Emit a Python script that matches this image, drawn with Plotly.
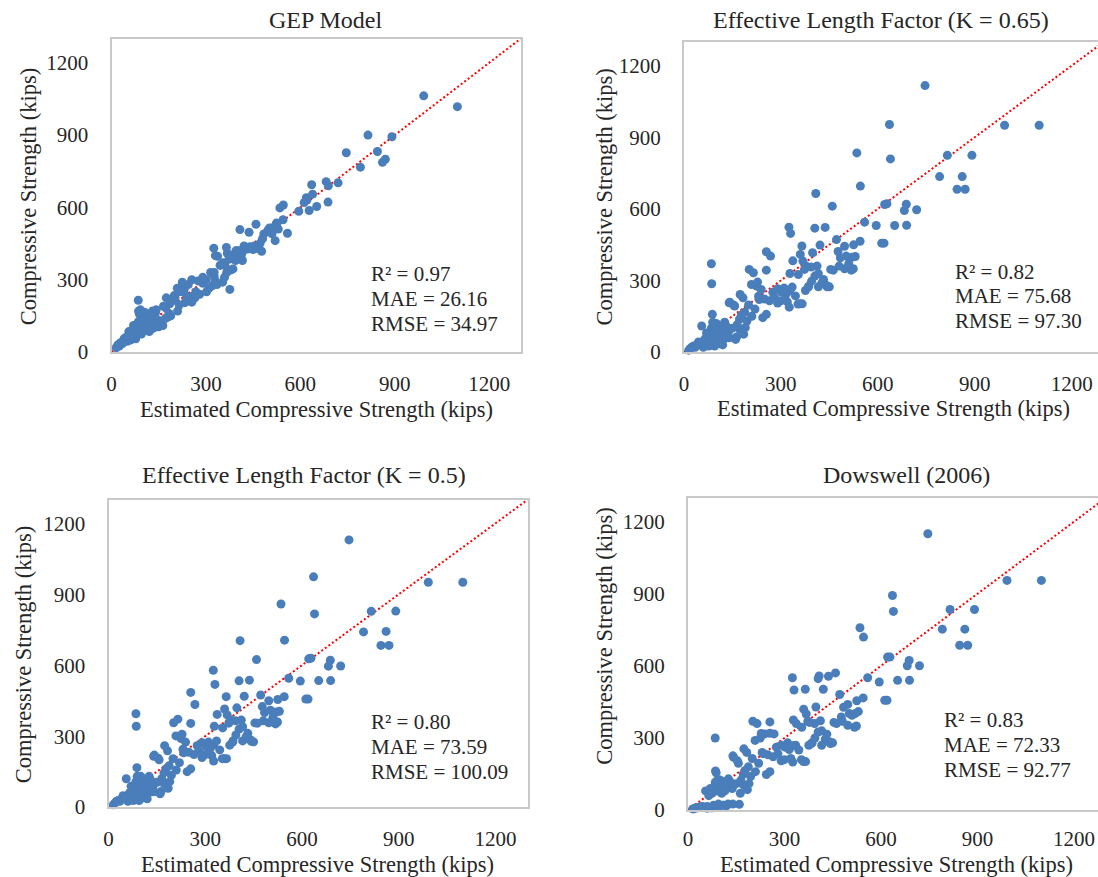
import plotly.graph_objects as go

# ---------------- data ----------------
# shared horizontal value for every specimen
x_est = [
    746, 636, 992, 1099, 535, 639, 815, 891, 791, 861, 845, 870, 546, 621, 628, 688, 682, 720, 559, 595, 652, 689, 612, 619, 545,
    408, 459, 405, 437, 472, 421, 398, 497, 525, 520, 484, 502, 477, 462, 497, 518, 524, 454, 412, 416, 443, 416, 427, 432, 405, 450, 440, 480, 510, 530,
    325, 330, 365, 360, 368, 378, 373, 337, 328, 354, 359, 366, 386, 395, 376, 394, 385, 302, 326, 326, 353, 255, 268, 255, 290, 310, 335, 280, 300, 320, 290, 345, 315, 265, 275,
    202, 215, 209, 228, 239, 225, 140, 154, 174, 183, 200, 233, 231, 249, 255, 244, 160, 190, 172, 188, 142, 157, 172, 163, 185, 138, 126, 210, 220, 195, 165, 150, 178,
    85, 86, 88, 89, 55, 25, 45, 77, 111, 15, 20, 30, 35, 40, 50, 60, 65, 70, 75, 80, 90, 95, 100, 105, 110, 115, 120, 125, 130, 135, 60, 70, 85, 95, 100, 110, 120, 140, 92, 105, 115,
]
y_gep = [
    827, 694, 1063, 1018, 598, 655, 900, 893, 767, 787, 832, 800, 610, 631, 587, 622, 707, 702, 493, 584, 604, 690, 620, 640, 549,
    508, 530, 420, 497, 451, 440, 420, 505, 531, 462, 490, 515, 418, 430, 500, 520, 535, 440, 400, 380, 435, 415, 430, 427, 395, 425, 437, 470, 490, 510,
    431, 400, 434, 360, 410, 340, 385, 397, 300, 370, 310, 330, 345, 420, 260, 380, 400, 250, 330, 317, 290, 300, 250, 230, 310, 265, 280, 240, 300, 275, 285, 360, 330, 225, 295,
    224, 195, 265, 270, 230, 290, 165, 130, 225, 160, 235, 205, 260, 215, 207, 280, 115, 210, 140, 150, 175, 120, 185, 110, 200, 150, 95, 170, 250, 225, 190, 105, 145,
    215, 170, 160, 130, 85, 25, 60, 55, 140, 18, 30, 40, 35, 55, 45, 80, 90, 60, 100, 70, 120, 75, 95, 135, 90, 150, 105, 130, 170, 100, 50, 110, 125, 80, 160, 120, 85, 115, 175, 165, 95,
]
y_k065 = [
    1116, 953, 950, 950, 834, 809, 824, 824, 735, 735, 682, 682, 695, 618, 621, 619, 593, 596, 544, 530, 530, 531, 456, 456, 464,
    664, 611, 519, 522, 471, 448, 416, 443, 449, 397, 395, 402, 421, 343, 349, 343, 349, 346, 360, 328, 273, 273, 289, 304, 318, 273, 280, 360, 370, 400,
    523, 497, 444, 409, 381, 360, 346, 382, 329, 325, 202, 202, 276, 297, 258, 356, 272, 251, 255, 188, 201, 420, 402, 343, 265, 268, 272, 230, 215, 210, 205, 235, 240, 215, 250,
    346, 332, 283, 293, 262, 276, 206, 197, 241, 227, 197, 220, 234, 222, 158, 144, 53, 102, 138, 167, 209, 193, 96, 63, 75, 84, 125, 150, 180, 130, 115, 100, 155,
    370, 286, 158, 125, 109, 21, 42, 25, 46, 8, 15, 25, 20, 30, 35, 40, 55, 30, 60, 50, 70, 40, 80, 60, 95, 70, 100, 55, 110, 90, 20, 80, 100, 25, 120, 35, 30, 60, 90, 110, 105,
]
y_k050 = [
    1130, 974, 951, 951, 859, 817, 828, 829, 741, 743, 684, 684, 706, 627, 630, 621, 596, 597, 545, 533, 535, 535, 457, 457, 467,
    704, 624, 534, 537, 474, 469, 420, 450, 455, 402, 400, 410, 425, 355, 357, 352, 360, 356, 368, 340, 278, 280, 298, 312, 330, 276, 285, 365, 380, 405,
    579, 519, 467, 415, 390, 370, 355, 392, 342, 335, 205, 205, 280, 305, 262, 365, 275, 258, 262, 195, 205, 485, 434, 354, 272, 275, 280, 238, 222, 218, 210, 242, 248, 222, 260,
    357, 372, 301, 308, 275, 290, 215, 207, 260, 238, 205, 230, 245, 232, 162, 150, 56, 108, 145, 175, 220, 200, 100, 66, 80, 88, 130, 157, 188, 135, 120, 105, 162,
    395, 342, 167, 130, 120, 25, 48, 28, 50, 10, 18, 28, 25, 35, 40, 45, 60, 35, 66, 55, 75, 45, 87, 66, 100, 75, 106, 60, 116, 95, 25, 88, 108, 28, 130, 40, 35, 65, 98, 115, 112,
]
y_dow = [
    1150, 893, 956, 956, 759, 827, 835, 835, 753, 753, 686, 686, 720, 637, 637, 623, 601, 601, 551, 533, 540, 540, 457, 457, 467,
    558, 571, 547, 557, 481, 503, 429, 440, 455, 402, 428, 402, 388, 360, 353, 345, 350, 365, 372, 330, 277, 270, 295, 316, 325, 280, 285, 370, 395, 410,
    551, 500, 503, 420, 400, 365, 370, 360, 375, 345, 202, 202, 280, 300, 270, 360, 278, 262, 268, 200, 210, 367, 317, 320, 270, 280, 270, 235, 210, 215, 205, 250, 252, 222, 262,
    370, 360, 290, 319, 317, 300, 226, 205, 255, 240, 215, 235, 240, 230, 160, 148, 24, 110, 150, 180, 220, 195, 105, 70, 85, 90, 130, 160, 195, 140, 125, 110, 165,
    300, 163, 155, 120, 80, 10, 15, 10, 20, 5, 6, 10, 12, 14, 12, 15, 60, 10, 70, 20, 80, 25, 90, 70, 105, 80, 110, 25, 120, 100, 8, 90, 115, 15, 125, 20, 18, 25, 100, 120, 115,
]

titles = ["GEP Model", "Effective Length Factor (K = 0.65)",
          "Effective Length Factor (K = 0.5)", "Dowswell (2006)"]
stats = [["R² = 0.97", "MAE = 26.16", "RMSE = 34.97"],
         ["R² = 0.82", "MAE = 75.68", "RMSE = 97.30"],
         ["R² = 0.80", "MAE = 73.59", "RMSE = 100.09"],
         ["R² = 0.83", "MAE = 72.33", "RMSE = 92.77"]]
tick_vals = [0, 300, 600, 900, 1200]
diag = [0, 1300]
x_title = "Estimated Compressive Strength (kips)"
y_title = "Compressive Strength (kips)"

for arr in (y_gep, y_k065, y_k050, y_dow):
    assert len(arr) == len(x_est)

# ---------------- layout geometry (pixels) ----------------
W, H = 1098, 877
FONT = "Liberation Serif"
TXT = "#262626"
BLUE = "#4A7EBB"
FRAME = "#C9C9C9"


def vy(y):
    # small vertical calibration of the measured pixel positions
    return y + 0.0118 * (y - 20)


def px(x):
    return x / W


def py(y):
    return 1 - vy(y) / H


series = [y_gep, y_k065, y_k050, y_dow]
# plot box: left, right, top, bottom (px), x range end, full frame?
boxes = [(107, 518, 39, 353, 1300, True),
         (682, 1098, 42, 353, 1281, False),
         (104, 525, 501, 809, 1300, True),
         (686, 1098, 499, 812, 1275, False)]
x_standoff = [12, 12, 12, 9]
title_pos = [(322, 20), (880, 20), (300, 476), (906, 476)]
xt_pos = [(313, 411), (893, 410), (314, 867), (896, 867)]
yt_pos = [(23, 197), (602, 198), (19, 656), (602, 638)]
stat_pos = [(366, [275, 300, 325]), (952, [273, 297, 322]),
            (366, [724, 749, 774]), (941, [722, 747, 772])]

fig = go.Figure()
layout = dict(width=W, height=H, autosize=False,
              margin=dict(l=0, r=0, t=0, b=0),
              paper_bgcolor="white", plot_bgcolor="white",
              showlegend=False, font=dict(family=FONT, color=TXT))
annotations = []

for i in range(4):
    sfx = "" if i == 0 else str(i + 1)
    l, r, t, b, xr, full = boxes[i]
    fig.add_trace(go.Scatter(x=diag, y=diag, mode="lines",
                             line=dict(color="#FF0000", width=2, dash="2px,2.4px"),
                             xaxis="x" + sfx, yaxis="y" + sfx, hoverinfo="skip"))
    fig.add_trace(go.Scatter(x=x_est, y=series[i], mode="markers",
                             marker=dict(size=9, color=BLUE),
                             cliponaxis=False,
                             xaxis="x" + sfx, yaxis="y" + sfx))
    layout["xaxis" + sfx] = dict(
        domain=[px(l), px(r)], range=[0, xr], anchor="y" + sfx,
        tickvals=tick_vals, showgrid=False, zeroline=False,
        showline=True, linecolor=FRAME, linewidth=2, mirror=True,
        ticks="", ticklabelstandoff=x_standoff[i],
        tickfont=dict(family=FONT, size=21, color=TXT))
    layout["yaxis" + sfx] = dict(
        domain=[py(b), py(t)], range=[0, 1300], anchor="x" + sfx,
        tickvals=tick_vals, showgrid=False, zeroline=False,
        showline=True, linecolor=FRAME, linewidth=2, mirror=full,
        ticks="", ticklabelstandoff=17,
        tickfont=dict(family=FONT, size=21, color=TXT))

    tx, ty = title_pos[i]
    annotations.append(dict(text=titles[i], x=px(tx), y=py(ty), xref="paper", yref="paper",
                            xanchor="center", yanchor="middle", showarrow=False,
                            font=dict(family=FONT, size=24, color=TXT)))
    ax_, ay_ = xt_pos[i]
    annotations.append(dict(text=x_title, x=px(ax_), y=py(ay_), xref="paper", yref="paper",
                            xanchor="center", yanchor="middle", showarrow=False,
                            font=dict(family=FONT, size=22.5, color=TXT)))
    bx, by = yt_pos[i]
    annotations.append(dict(text=y_title, x=px(bx), y=py(by), xref="paper", yref="paper",
                            xanchor="center", yanchor="middle", showarrow=False, textangle=-90,
                            font=dict(family=FONT, size=22.5, color=TXT)))
    sx, sys_ = stat_pos[i]
    for line, yy in zip(stats[i], sys_):
        annotations.append(dict(text=line, x=px(sx), y=py(yy), xref="paper", yref="paper",
                                xanchor="left", yanchor="middle", showarrow=False,
                                font=dict(family=FONT, size=21, color=TXT)))

layout["annotations"] = annotations
fig.update_layout(**layout)
fig.write_html("out.html",
               config={"displayModeBar": False},
               post_script="document.body.style.margin='0px';"
                           "document.body.style.overflow='hidden';")
